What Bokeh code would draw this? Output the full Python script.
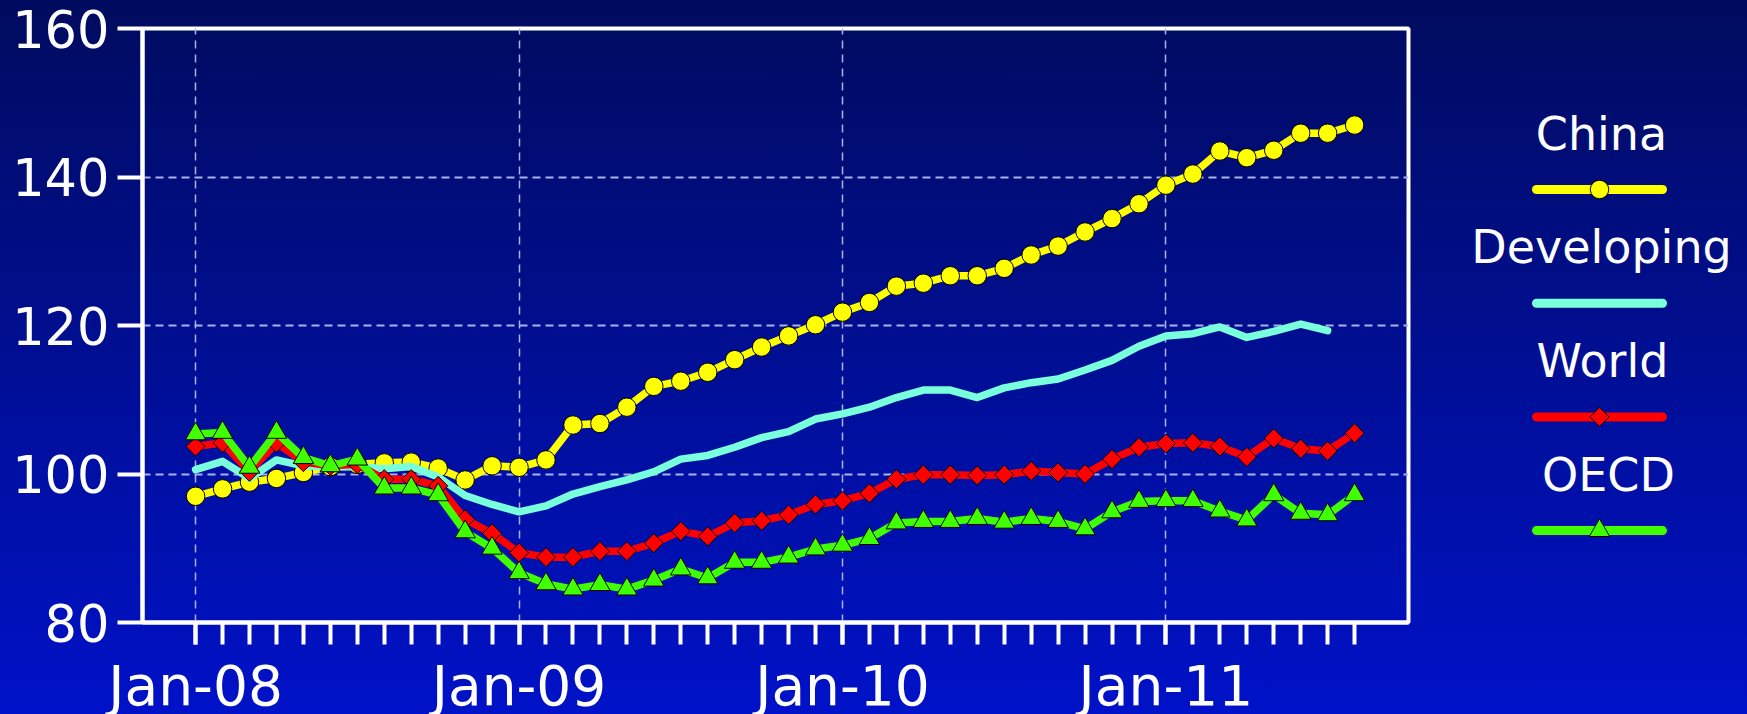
from bokeh.plotting import figure
from bokeh.models import Range1d, FixedTicker, GlobalInlineStyleSheet
from bokeh.layouts import row, column
from bokeh.embed import file_html
from bokeh.resources import INLINE
from bokeh.core.properties import value

# ---------------- data ----------------
months = list(range(44))            # Jan-08 ... Aug-11, one slot per month
year_ticks = [0, 12, 24, 36]
year_labels = ["Jan-08", "Jan-09", "Jan-10", "Jan-11"]
y_ticks = [80, 100, 120, 140, 160]

china = [97.0, 98.0, 98.9, 99.4, 100.2, 101.0, 101.3, 101.5, 101.6, 100.8, 99.2, 101.1,
         100.9, 101.9, 106.6, 106.8, 109.0, 111.8, 112.5, 113.7, 115.4, 117.1, 118.6, 120.1,
         121.8, 123.1, 125.3, 125.7, 126.7, 126.7, 127.7, 129.5, 130.7, 132.6, 134.4, 136.4,
         138.9, 140.4, 143.5, 142.6, 143.6, 145.9, 145.9, 147.0]
developing = [100.6, 101.7, 99.4, 101.9, 101.1, 100.9, 101.0, 100.7, 101.0, 99.6, 97.1, 95.9,
              94.9, 95.7, 97.3, 98.3, 99.2, 100.3, 102.0, 102.5, 103.6, 104.9, 105.7, 107.4,
              108.1, 109.0, 110.3, 111.3, 111.3, 110.3, 111.6, 112.3, 112.8, 114.0, 115.3, 117.2,
              118.6, 118.9, 119.8, 118.4, 119.2, 120.2, 119.3]
world = [103.7, 104.2, 100.3, 104.2, 101.6, 101.1, 101.3, 99.3, 99.3, 98.4, 93.9, 92.0,
         89.4, 88.8, 88.8, 89.6, 89.6, 90.7, 92.3, 91.6, 93.4, 93.7, 94.5, 95.9,
         96.4, 97.4, 99.3, 99.9, 99.9, 99.8, 99.9, 100.4, 100.2, 100.0, 102.0, 103.6,
         104.1, 104.2, 103.7, 102.3, 104.8, 103.4, 103.1, 105.5]
oecd = [105.4, 105.6, 100.9, 105.6, 102.2, 101.1, 102.0, 98.1, 98.1, 97.2, 92.2, 90.0,
        86.7, 85.2, 84.5, 85.1, 84.5, 85.7, 87.2, 86.0, 88.1, 88.1, 88.8, 89.9,
        90.4, 91.3, 93.4, 93.6, 93.6, 94.0, 93.5, 94.0, 93.6, 92.6, 94.9, 96.3,
        96.4, 96.4, 95.0, 93.8, 97.2, 94.7, 94.5, 97.2]

series_names = ["China", "Developing", "World", "OECD"]
series_values = [china, developing, world, oecd]
series_colors = ["#ffff00", "#7affdc", "#ff0000", "#40ff00"]
series_markers = ["circle", None, "diamond", "triangle"]

# ---------------- layout constants (px) ----------------
FONT = "DejaVu Sans"
GRID = "#aab2ec"
W_MAIN, W_LEG, H = 1440, 307, 714
LEFT, RIGHT, TOP = 142, 32, 28
FRAME_BOTTOM = 622
MAIN_H = 658                    # plot incl. tick marks; month names go in a strip below
BASE_SHIFT = 0.41               # svg alphabetic-baseline correction (em)
X0, X1 = -1.97, 45.0

def marker(fig, xs, ys, mk, col):
    if mk == "diamond":
        fig.scatter(xs, ys, marker="square", angle=0.7853981634, size=13.5,
                    fill_color=col, line_color="black", line_width=1)
    elif mk == "triangle":
        fig.scatter(xs, ys, marker="triangle", size=20.5,
                    fill_color=col, line_color="black", line_width=1)
    elif mk == "circle":
        fig.scatter(xs, ys, marker="circle", size=18.5,
                    fill_color=col, line_color="black", line_width=1)

def clear(fig):
    fig.background_fill_alpha = 0
    fig.border_fill_alpha = 0

p = figure(width=W_MAIN, height=MAIN_H, x_range=Range1d(X0, X1), y_range=Range1d(80, 160),
           output_backend="svg", toolbar_location=None,
           min_border_left=LEFT, min_border_right=RIGHT, min_border_top=TOP,
           min_border_bottom=MAIN_H - FRAME_BOTTOM)
clear(p)
p.outline_line_color = "white"
p.outline_line_width = 4

p.xaxis.ticker = FixedTicker(ticks=year_ticks, minor_ticks=months)
p.xaxis.major_label_overrides = {t: "" for t in year_ticks}
p.xaxis.major_label_text_font_size = "1px"
p.xaxis.major_label_standoff = 0
p.yaxis.ticker = FixedTicker(ticks=y_ticks)

for ax in (p.xaxis[0], p.yaxis[0]):
    ax.axis_line_color = "white"
    ax.axis_line_width = 4
    ax.major_tick_line_color = "white"
    ax.major_tick_line_width = 4
    ax.minor_tick_line_color = "white"
    ax.minor_tick_line_width = 4
    ax.major_tick_in = 0
    ax.minor_tick_in = 0
    ax.major_label_text_color = "white"
    ax.major_label_text_font = FONT

p.xaxis.major_tick_out = 22
p.xaxis.minor_tick_out = 22
p.yaxis.major_tick_out = 25
p.yaxis.minor_tick_line_color = None
p.yaxis.major_label_text_font_size = "51px"
p.yaxis.major_label_standoff = 8

p.xgrid.grid_line_color = GRID
p.xgrid.grid_line_dash = "8 6"
p.xgrid.grid_line_width = 1.5
p.ygrid.grid_line_color = GRID
p.ygrid.grid_line_dash = "8 5"
p.ygrid.grid_line_width = 2

for vals, col, mk in zip(series_values, series_colors, series_markers):
    xs = months[:len(vals)]
    p.line(xs, vals, line_color=col, line_width=7.5, line_join="round", line_cap="round")
    marker(p, xs, vals, mk, col)

# ---------------- month-name strip under the axis (same x scale, full-width frame) ----------------
ppu = (W_MAIN - LEFT - RIGHT) / (X1 - X0)
strip = figure(width=W_MAIN, height=H - MAIN_H,
               x_range=Range1d(X0 - LEFT / ppu, X1 + RIGHT / ppu), y_range=Range1d(H, MAIN_H),
               output_backend="svg", toolbar_location=None,
               min_border_left=0, min_border_right=0, min_border_top=0, min_border_bottom=0,
               x_axis_type=None, y_axis_type=None, outline_line_color=None)
clear(strip)
strip.grid.visible = False
XLAB_SIZE = 55
XLAB_BASE = 708
strip.text(year_ticks, [XLAB_BASE - BASE_SHIFT * XLAB_SIZE] * len(year_ticks), text=year_labels,
           text_font=value(FONT), text_font_size=f"{XLAB_SIZE}px", text_align="center",
           text_baseline="alphabetic", text_color="white")

# ---------------- legend panel (pixel coordinates) ----------------
lg = figure(width=W_LEG, height=H, x_range=Range1d(W_MAIN, W_MAIN + W_LEG), y_range=Range1d(H, 0),
            output_backend="svg", toolbar_location=None,
            min_border_left=0, min_border_right=0, min_border_top=0, min_border_bottom=0,
            x_axis_type=None, y_axis_type=None, outline_line_color=None)
clear(lg)
lg.grid.visible = False

LEG_X0, LEG_X1, LEG_MID = 1536, 1662, 1599
LEG_Y0, LEG_DY, TXT_UP = 189, 113.7, 37
LEG_SIZE = 46
text_x = [1601, 1601, 1602, 1608]
for k, (name, col, mk) in enumerate(zip(series_names, series_colors, series_markers)):
    yl = LEG_Y0 + LEG_DY * k
    lg.line([LEG_X0, LEG_X1], [yl, yl], line_color=col, line_width=9, line_cap="round")
    marker(lg, [LEG_MID], [yl], mk, col)
    lg.text([text_x[k]], [yl - TXT_UP - BASE_SHIFT * LEG_SIZE], text=[name], text_font=value(FONT),
            text_font_size=f"{LEG_SIZE}px", text_align="center", text_baseline="alphabetic",
            text_color="white")

layout = row(column(p, row(strip)), lg,
             styles={"background": "linear-gradient(to bottom, #000b5e 0%, #0012c8 100%)"})
layout.stylesheets = [GlobalInlineStyleSheet(
    css="html, body { margin: 0 !important; padding: 0; background: #0012c8; overflow: hidden; }")]

open("out.html", "w").write(file_html(layout, INLINE))
